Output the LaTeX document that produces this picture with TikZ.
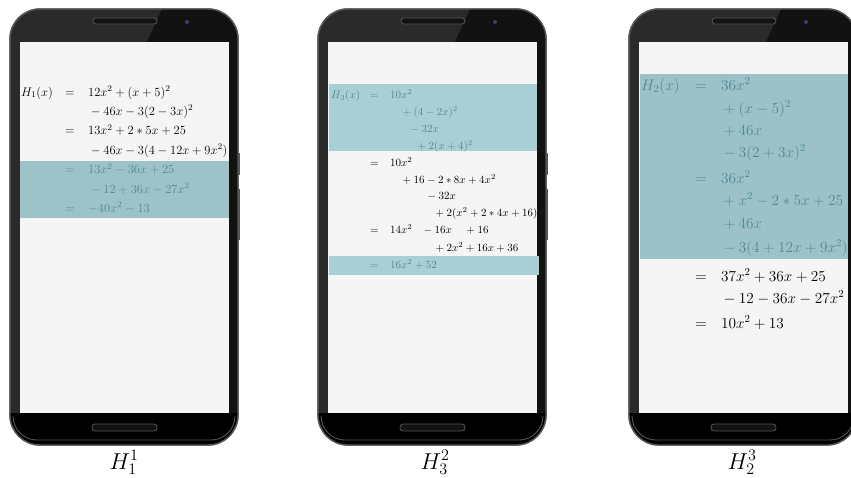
\RequirePackage{fix-cm}
\documentclass[tikz,border=0pt]{standalone}
\definecolor{screengray}{HTML}{F5F5F5}
\definecolor{bodygray}{HTML}{2A2A2A}
\definecolor{bezeldark}{HTML}{121212}
\definecolor{rimgray}{HTML}{555555}
\definecolor{hlA}{HTML}{9DC3C8}
\definecolor{hlB}{HTML}{A8CFD4}
\definecolor{hlC}{HTML}{9CC2C7}
\definecolor{hltext}{HTML}{4F8899}
\begin{document}
\begin{tikzpicture}[x=1pt,y=-1pt,
    phonebody/.style={rounded corners=30,fill=bodygray,draw=rimgray,line width=1.4pt},
    speaker/.style={rounded corners=3,fill=bezeldark,draw=rimgray,line width=0.8pt},
    eqn/.style={anchor=base west,inner sep=0pt},
    eqa/.style={eqn,font=\fontsize{12.5}{15}\selectfont},
    eqb/.style={eqn,font=\fontsize{11}{13}\selectfont},
    eqc/.style={eqn,font=\fontsize{15.3}{18}\selectfont},
    hl/.style={text=hltext},
    lbl/.style={anchor=base,inner sep=0pt,font=\fontsize{23}{26}\selectfont}]
\useasboundingbox (0,0) rectangle (851,477);
\fill[white] (0,0) rectangle (851,477);

% phones
\foreach \l in {10,318,629}{
  \pgfmathsetmacro{\r}{\l+228}
  \draw[phonebody] (\l,9) rectangle (\r,445);
  \begin{scope}
    \clip[rounded corners=30] (\l,9) rectangle (\r,445);
    \fill[bezeldark] ({\l+137},42) -- ({\l+152},9) -- (\r,9) -- (\r,42) -- cycle;
    \fill[black] (\l,413) rectangle (\r,445);
    \fill[bezeldark] ({\r-9},42) rectangle (\r,413);
  \end{scope}
  \draw[rimgray,line width=0.9pt,rounded corners=24] ({\l+3},418) -- ({\l+3},440) -- ({\r-3},440) -- ({\r-3},418);
  \draw[rimgray,line width=1.4pt,rounded corners=30] (\l,9) rectangle (\r,445);
  \fill[screengray] ({\l+10},42) rectangle ({\r-9},413);
  \draw[speaker] ({\l+83},18) rectangle ({\l+147},24);
  \draw[speaker] ({\l+82},424) rectangle ({\l+147},431);
  \fill[blue!30!bezeldark!80!white] ({\l+177},22) circle (2);
  \fill[rimgray] ({\r-0.5},153) rectangle ({\r+1.5},175);
  \fill[rimgray] ({\r-0.5},189) rectangle ({\r+1.5},240);
}

% H1
\fill[hlA] (20,161) rectangle (229,218);
\node[eqa] (a1) at (21,96) {$H_1(x)$};
\node[eqa] (a1e) at (65,96) {$=$};
\node[eqa] (a1r) at (88,96) {$12x^2+(x+5)^2$};
\node[eqa] (a2r) at (88,115.4) {${}-46x-3(2-3x)^2$};
\node[eqa] (a3e) at (65,134.8) {$=$};
\node[eqa] (a3r) at (88,134.8) {$13x^2+2*5x+25$};
\node[eqa] (a4r) at (88,154.2) {${}-46x-3(4-12x+9x^2)$};
\node[eqa,hl] (a5e) at (65,173.6) {$=$};
\node[eqa,hl] (a5r) at (88,173.6) {$13x^2-36x+25$};
\node[eqa,hl] (a6r) at (88,193) {${}-12+36x-27x^2$};
\node[eqa,hl] (a7e) at (65,212.4) {$=$};
\node[eqa,hl] (a7r) at (88,212.4) {$-40x^2-13$};
\node[lbl] (lab1) at (124,469) {$H_1^1$};

% H3
\fill[hlB] (329,84) rectangle (537,151);
\fill[hlB] (329,256) rectangle (539,275);
\node[eqb,hl] (b1) at (331,98.5) {$H_3(x)$};
\node[eqb,hl] (b1e) at (370,98.5) {$=$};
\node[eqb,hl] (b1r) at (390,98.5) {$10x^2$};
\node[eqb,hl] (b2r) at (400,115.4) {${}+(4-2x)^2$};
\node[eqb,hl] (b3r) at (408,132.3) {${}-32x$};
\node[eqb,hl] (b4r) at (415,149.2) {${}+2(x+4)^2$};
\node[eqb] (b5e) at (370,166.1) {$=$};
\node[eqb] (b5r) at (390,166.1) {$10x^2$};
\node[eqb] (b6r) at (400,183) {${}+16-2*8x+4x^2$};
\node[eqb] (b7r) at (425,199.9) {${}-32x$};
\node[eqb] (b8r) at (433,216.8) {${}+2(x^2+2*4x+16)$};
\node[eqb] (b9e) at (370,233.7) {$=$};
\node[eqb] (b9r) at (390,233.7) {$14x^2$};
\node[eqb] (b9s) at (421,233.7) {${}-16x$};
\node[eqb] (b9t) at (464,233.7) {${}+16$};
\node[eqb] (b10r) at (433,251.5) {${}+2x^2+16x+36$};
\node[eqb,hl] (b11e) at (370,268.5) {$=$};
\node[eqb,hl] (b11r) at (390,268.5) {$16x^2+52$};
\node[lbl] (lab2) at (435,469) {$H_3^2$};

% H2
\fill[hlC] (640,74) rectangle (848,259);
\node[eqc,hl] (c1) at (641,90) {$H_2(x)$};
\node[eqc,hl] (c1e) at (695,90) {$=$};
\node[eqc,hl] (c1r) at (721,90) {$36x^2$};
\node[eqc,hl] (c2r) at (720,113) {${}+(x-5)^2$};
\node[eqc,hl] (c3r) at (720,135) {${}+46x$};
\node[eqc,hl] (c4r) at (720,157) {${}-3(2+3x)^2$};
\node[eqc,hl] (c5e) at (695,183) {$=$};
\node[eqc,hl] (c5r) at (721,183) {$36x^2$};
\node[eqc,hl] (c6r) at (720,205) {${}+x^2-2*5x+25$};
\node[eqc,hl] (c7r) at (720,228) {${}+46x$};
\node[eqc,hl] (c8r) at (720,252) {${}-3(4+12x+9x^2)$};
\node[eqc] (c9e) at (695,281) {$=$};
\node[eqc] (c9r) at (721,281) {$37x^2+36x+25$};
\node[eqc] (c10r) at (720,303) {${}-12-36x-27x^2$};
\node[eqc] (c11e) at (695,328) {$=$};
\node[eqc] (c11r) at (721,328) {$10x^2+13$};
\node[lbl] (lab3) at (742,469) {$H_2^3$};
\end{tikzpicture}
\end{document}
